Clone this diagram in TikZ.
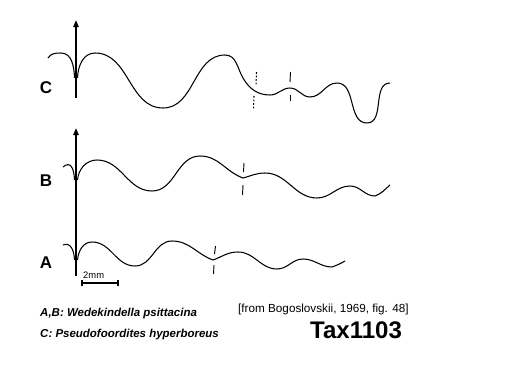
\documentclass[tikz,border=0pt]{standalone}
\usepackage{fontspec}
\setmainfont{Liberation Sans}
\usepackage{tikz}
\usetikzlibrary{arrows.meta}

\begin{document}
\begin{tikzpicture}[
      x=0.03cm, y=-0.03cm,
      suture/.style={line width=0.9pt, line join=round},
      axis/.style={line width=1.5pt, -{Triangle[length=6pt, width=4.5pt]}},
      tickmark/.style={line width=0.8pt},
      dotmark/.style={line width=0.9pt, dash pattern=on 1.5pt off 1.5pt},
      letter/.style={font=\fontsize{14.5}{16}\selectfont\bfseries, inner sep=0pt},
      species/.style={font=\fontsize{9.8}{12}\selectfont\bfseries\itshape, anchor=base west, inner sep=0pt},
    ]
      \useasboundingbox (0,0) rectangle (523,388);

      % growth axes
      \coordinate (axC0) at (76,98);
      \coordinate (axC1) at (76,20);
      \coordinate (axB0) at (76,276);
      \coordinate (axB1) at (76,128);
      \draw[axis] (axC0) -- (axC1);
      \draw[axis] (axB0) -- (axB1);

      % C: Pseudofoordites hyperboreus
      \draw[suture] (48,58) to[out=60,in=180] (61,53) to[out=0,in=92] (74.5,78);
      \draw[suture] (77.5,78) to[out=88,in=180] (95,53)
        to[out=0,in=180] (163,108) to[out=0,in=180] (225,55)
        to[out=0,in=120] (243,78) to[out=-60,in=180] (270,95)
        to[out=0,in=180] (290,88) to[out=0,in=180] (310,97)
        to[out=0,in=180] (337,83) to[out=0,in=180] (367,123)
        to[out=0,in=180] (390,83);
      \draw[dotmark] (256.5,72) -- (256,85);
      \draw[dotmark] (254,96) -- (253.5,109);
      \draw[tickmark] (290.5,72) -- (290,82);
      \draw[tickmark] (290,95) -- (290,101);

      % B: Wedekindella psittacina
      \draw[suture] (63,167) .. controls (70,161) and (74,167) .. (74.5,180);
      \draw[suture] (77.5,180) to[out=85,in=180] (97,160)
        to[out=0,in=180] (152,191) to[out=0,in=180] (200,156)
        to[out=0,in=160] (243,178) to[out=15,in=180] (265,173)
        to[out=0,in=180] (317,198) to[out=0,in=180] (350,186)
        to[out=0,in=180] (375,196) to[out=20,in=220] (390,185);
      \draw[tickmark] (244,163) -- (243.5,172);
      \draw[tickmark] (243,185) -- (242.5,195);

      % A: Wedekindella psittacina
      \draw[suture] (63,245) .. controls (70,242) and (74,249) .. (74.5,260);
      \draw[suture] (77.5,260) to[out=85,in=180] (92,242)
        to[out=0,in=180] (135,266) to[out=0,in=180] (172,241)
        to[out=0,in=160] (213,260) to[out=20,in=180] (238,252)
        to[out=0,in=180] (277,269) to[out=0,in=180] (303,259)
        to[out=0,in=180] (332,267) to[out=20,in=210] (345,261);
      \draw[tickmark] (215.5,246) -- (214.5,254);
      \draw[tickmark] (214,265) -- (213.5,274);

      % row letters
      \node[letter] (lblC) at (46,87.5) {C};
      \node[letter] (lblB) at (46,181) {B};
      \node[letter] (lblA) at (46,262.5) {A};

      % scale bar
      \draw[line width=1.6pt] (82,283) -- (118,283);
      \draw[line width=1.2pt] (82,280) -- (82,286);
      \draw[line width=1.2pt] (118,280) -- (118,286);
      \node[font=\fontsize{8}{9}\selectfont, anchor=base west, inner sep=0pt] (scale) at (83,278) {2mm};

      % captions
      \node[species] (capAB) at (40,316) {A,B: Wedekindella psittacina};
      \node[species] (capC) at (40,337) {C: Pseudofoordites hyperboreus};
      \node[font=\fontsize{10}{12}\selectfont, anchor=base west, inner sep=0pt] (source) at (238,312) {[from Bogoslovskii, 1969, fig. 48]};
      \node[font=\fontsize{20.5}{22}\selectfont\bfseries, anchor=base west, inner sep=0pt] (tax) at (310,338) {Tax1103};
\end{tikzpicture}
\end{document}
